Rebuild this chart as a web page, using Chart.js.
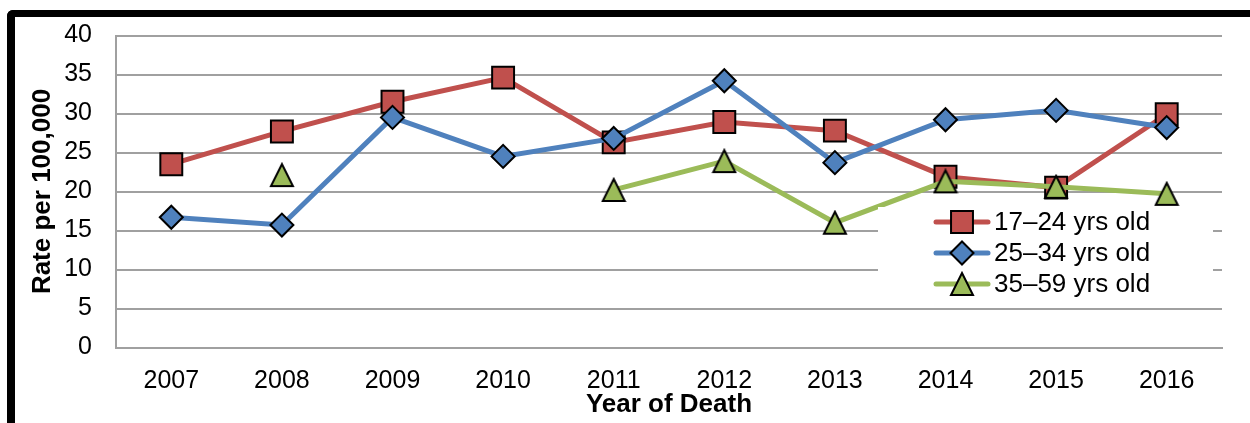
<!DOCTYPE html>
<html>
<head>
<meta charset="utf-8">
<script src="https://cdn.jsdelivr.net/npm/chart.js@4.4.0/dist/chart.umd.min.js"></script>
<style>
  html, body { margin: 0; padding: 0; background: #fff; }
  #frame {
    position: absolute; left: 7px; top: 10px; width: 1243px; height: 413px;
    box-sizing: border-box; border-top: 7px solid #000; border-left: 8px solid #000;
    border-top-left-radius: 6px;
  }
  #wrap { position: absolute; left: 0; top: 0; width: 1235px; height: 406px; }
</style>
</head>
<body>
<div id="frame"><div id="wrap"><canvas id="rates"></canvas></div></div>
<script>
var years = ['2007', '2008', '2009', '2010', '2011', '2012', '2013', '2014', '2015', '2016'];
var age17to24 = [23.5, 27.7, 31.5, 34.6, 26.3, 28.9, 27.8, 21.9, 20.5, 29.9];
var age25to34 = [16.7, 15.7, 29.5, 24.5, 26.8, 34.2, 23.7, 29.2, 30.4, 28.2];
var age35to59 = [null, 22.1, null, null, 20.2, 23.9, 16.0, 21.3, 20.6, 19.7];
var seriesNames = ['17\u201324 yrs old', '25\u201334 yrs old', '35\u201359 yrs old'];

var fontFamily = '"Liberation Sans", Arial, sans-serif';
var gridGray = '#a0a0a0';

// triangle marker centred on its box, as Excel draws it
function triangleMarker(color) {
    var c = document.createElement('canvas');
    c.width = 26;
    c.height = 26;
    var g = c.getContext('2d');
    g.beginPath();
    g.moveTo(13, 2);
    g.lineTo(24, 24);
    g.lineTo(2, 24);
    g.closePath();
    g.fillStyle = color;
    g.fill();
    g.lineWidth = 2;
    g.strokeStyle = '#000';
    g.stroke();
    return c;
}

function series(label, data, color, style, radius, order) {
    return {
        label: label,
        data: data,
        borderColor: color,
        backgroundColor: color,
        borderWidth: 5,
        pointStyle: style,
        pointRadius: radius,
        pointBackgroundColor: color,
        pointBorderColor: '#000',
        pointBorderWidth: 2,
        spanGaps: false,
        tension: 0,
        order: order
    };
}

// legend box drawn over the plot, like the original
var legendBox = {
    id: 'legendBox',
    afterDatasetsDraw: function (chart) {
        var ctx = chart.ctx, area = chart.chartArea;
        var x0 = area.right - 344, y0 = area.top + 171.5;
        ctx.save();
        ctx.fillStyle = '#fff';
        ctx.fillRect(x0, y0, 335, 93);
        chart.data.datasets.forEach(function (ds, i) {
            var y = y0 + 15 + i * 31;
            ctx.strokeStyle = ds.borderColor;
            ctx.lineWidth = 5;
            ctx.lineCap = 'round';
            ctx.beginPath();
            ctx.moveTo(x0 + 58, y);
            ctx.lineTo(x0 + 110, y);
            ctx.stroke();
            ctx.fillStyle = ds.pointBackgroundColor;
            ctx.strokeStyle = '#000';
            ctx.lineWidth = 2;
            Chart.helpers.drawPoint(ctx, {
                pointStyle: ds.pointStyle, radius: ds.pointRadius, rotation: 0, borderWidth: 2
            }, x0 + 84, y);
            ctx.fillStyle = '#000';
            ctx.font = '26px ' + fontFamily;
            ctx.textBaseline = 'middle';
            ctx.textAlign = 'left';
            ctx.fillText(ds.label, x0 + 116, y + 1);
        });
        ctx.restore();
    }
};

new Chart(document.getElementById('rates'), {
    type: 'line',
    data: {
        labels: years,
        datasets: [
            series(seriesNames[0], age17to24, '#c0504d', 'rect', 15.5, 3),
            series(seriesNames[1], age25to34, '#4f81bd', 'rectRot', 11.5, 2),
            series(seriesNames[2], age35to59, '#9bbb59', triangleMarker('#9bbb59'), 13, 1)
        ]
    },
    options: {
        responsive: true,
        maintainAspectRatio: false,
        animation: false,
        events: [],
        layout: { padding: { top: 18.5, right: 28, left: 0, bottom: 0 } },
        scales: {
            x: {
                offset: true,
                afterFit: function (scale) { scale.height = 75.5; },
                grid: { display: false, drawTicks: false },
                border: { display: true, color: gridGray, width: 2 },
                ticks: { color: '#000', padding: 19, font: { family: fontFamily, size: 25 } },
                title: {
                    display: true,
                    text: 'Year of Death',
                    color: '#000',
                    padding: { top: 0, bottom: 2.5 },
                    font: { family: fontFamily, size: 26, weight: 'bold' }
                }
            },
            y: {
                min: 0,
                max: 40,
                afterFit: function (scale) {
                    scale.width = 101;
                    scale.paddingTop = 0;
                    scale.paddingBottom = 0;
                },
                grid: { color: gridGray, lineWidth: 2, drawTicks: false },
                border: { display: true, color: gridGray, width: 2 },
                ticks: { stepSize: 5, color: '#000', padding: 24, font: { family: fontFamily, size: 25 } },
                title: {
                    display: true,
                    text: 'Rate per 100,000',
                    color: '#000',
                    padding: { top: 12.4, bottom: 0 },
                    font: { family: fontFamily, size: 26, weight: 'bold' }
                }
            }
        },
        plugins: {
            legend: { display: false },
            tooltip: { enabled: false }
        }
    },
    plugins: [legendBox]
});
</script>
</body>
</html>
